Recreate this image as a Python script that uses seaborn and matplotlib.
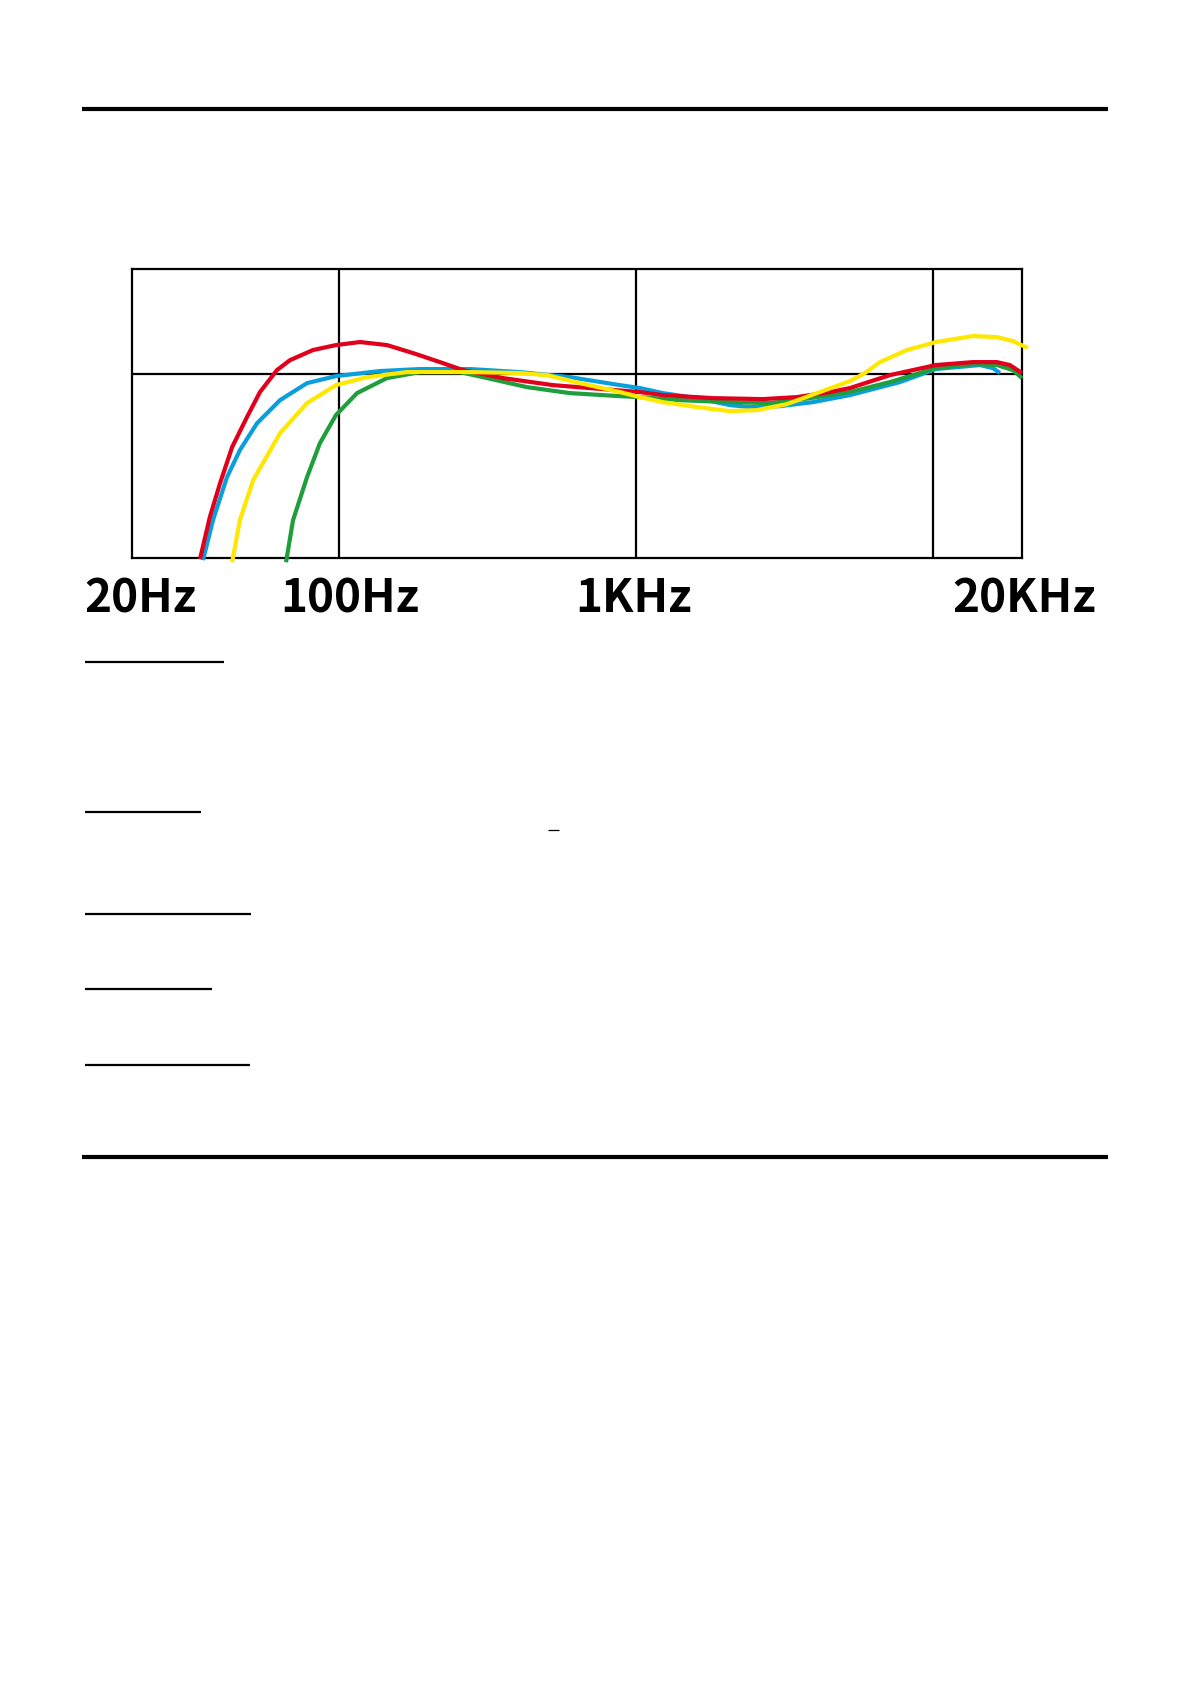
import matplotlib
matplotlib.use('Agg')

import matplotlib.pyplot as plt
import matplotlib.transforms as mtransforms
import seaborn as sns
import pandas as pd
from matplotlib.lines import Line2D

# frequency response curves (Hz, dB relative to the 0 line)
red_hz = [33.9, 36.6, 39.6, 43.5, 48.8, 54.0, 61.6, 68.2, 81.5, 97.4, 117.4, 144.7, 177.1,
          218.3, 261.0, 356.0, 524.8, 773.5, 1031, 1232, 1817, 2678, 3486, 4504, 5260, 7175,
          10250, 13660, 16460, 18200, 20000]
red_db = [-17.6, -13.6, -10.4, -6.95, -4.10, -1.71, 0.38, 1.33, 2.29, 2.76, 3.05, 2.76, 2.0,
          1.14, 0.38, -0.38, -1.05, -1.43, -1.71, -2.0, -2.29, -2.38, -2.19, -1.71, -1.33, -0.10,
          0.86, 1.14, 1.14, 0.86, 0.10]

blue_hz = [34.7, 37.5, 41.8, 46.2, 52.8, 63.1, 77.8, 97.4, 137.1, 186.9, 275.5, 406.2, 598.7,
           882.7, 1031, 1232, 1604, 2073, 2421, 3055, 3947, 5260, 7755, 10250, 14430, 15960,
           16850]
blue_db = [-17.7, -13.9, -9.81, -7.24, -4.67, -2.48, -0.86, -0.19, 0.29, 0.48, 0.48, 0.19, -0.29,
           -1.05, -1.33, -1.81, -2.29, -2.95, -3.14, -3.05, -2.67, -2.0, -0.76, 0.48, 0.86, 0.57,
           0.10]

yellow_hz = [43.5, 46.2, 51.2, 63.1, 77.8, 97.4, 123.9, 169.0, 275.5, 406.2, 501.0, 647.3,
             882.7, 1031, 1232, 1604, 2073, 2556, 3226, 4071, 5260, 5909, 6640, 8188, 10250,
             13660, 16460, 18630, 20940]
yellow_db = [-17.9, -13.9, -10.1, -5.62, -2.76, -1.05, -0.29, 0.19, 0.19, 0.10, -0.10, -0.86,
             -1.71, -2.19, -2.67, -3.14, -3.52, -3.43, -2.86, -1.81, -0.67, 0.10, 1.14, 2.29,
             3.05, 3.62, 3.52, 3.14, 2.48]

green_hz = [66.1, 69.8, 77.8, 86.0, 97.4, 114.7, 144.7, 186.9, 255.0, 314.5, 428.9, 598.7,
            882.7, 1031, 1406, 2073, 2827, 3856, 5260, 7175, 10250, 13660, 16460, 18630, 20000]
green_db = [-17.9, -13.9, -9.81, -6.57, -3.90, -1.81, -0.38, 0.19, 0.19, -0.38, -1.24, -1.81,
            -2.10, -2.19, -2.48, -2.67, -2.76, -2.29, -1.71, -0.76, 0.57, 0.95, 0.86, 0.38, -0.38]

tick_hz = [20, 100, 1000, 20000]
tick_labels = ["20Hz", "100Hz", "1KHz", "20KHz"]
grid_hz = [100, 1000, 10000]

sns.set_theme(style="white")
plt.rcParams['font.family'] = ['Noto Sans CJK TC', 'DejaVu Sans']

W, H = 1191, 1684
fig = plt.figure(figsize=(W / 100, H / 100), dpi=100)
fig.patch.set_facecolor("white")

ax = fig.add_axes([132 / W, 1 - 558 / H, (1022 - 132) / W, (558 - 269) / H])
ax.set_xscale("log")
ax.set_xlim(20, 20000)
ax.set_ylim(-17.5, 10)

for x in grid_hz:
    ax.axvline(x, color="black", lw=1.6, zorder=1)
ax.axhline(0, color="black", lw=1.6, zorder=1)

curves = [
    ("blue", blue_hz, blue_db, "#0A9FDC"),
    ("green", green_hz, green_db, "#1E9E3C"),
    ("red", red_hz, red_db, "#E0001B"),
    ("yellow", yellow_hz, yellow_db, "#FFE800"),
]
for name, hz, db, col in curves:
    df = pd.DataFrame({"hz": hz, "db": db})
    sns.lineplot(data=df, x="hz", y="db", ax=ax, color=col, lw=3.0,
                 sort=False, estimator=None, clip_on=False, zorder=3,
                 solid_joinstyle="round", solid_capstyle="butt")

for sp in ax.spines.values():
    sp.set_visible(True)
    sp.set_color("black")
    sp.set_linewidth(1.6)

ax.set_xticks(tick_hz)
ax.set_xticklabels(tick_labels, fontsize=33, fontweight="bold", va="baseline")
ax.xaxis.set_minor_locator(matplotlib.ticker.NullLocator())
ax.set_yticks([])
ax.tick_params(axis="x", length=0, pad=39, colors="black")
ax.set_xlabel("")
ax.set_ylabel("")

# labels sit a little off their grid positions in the original (pixels)
label_nudge = [8, 10, -3, 2]
for lbl, dx in zip(ax.get_xticklabels(), label_nudge):
    shift = mtransforms.ScaledTranslation(dx / 100, 0, fig.dpi_scale_trans)
    lbl.set_transform(lbl.get_transform() + shift)

# page rules and heading underlines
def hline(x0, x1, y, lw):
    fig.add_artist(Line2D([x0 / W, x1 / W], [1 - y / H, 1 - y / H], color="black", lw=lw,
                          solid_capstyle="butt"))

hline(82, 1108, 109, 3.0)
hline(82, 1108, 1157, 3.0)
hline(85, 224, 662, 1.6)
hline(85, 201, 812, 1.6)
hline(85, 251, 914, 1.6)
hline(85, 212, 989, 1.6)
hline(85, 250, 1065, 1.6)
hline(548, 559, 830, 0.9)

fig.savefig("out.png", dpi=100, facecolor="white")
plt.close(fig)
